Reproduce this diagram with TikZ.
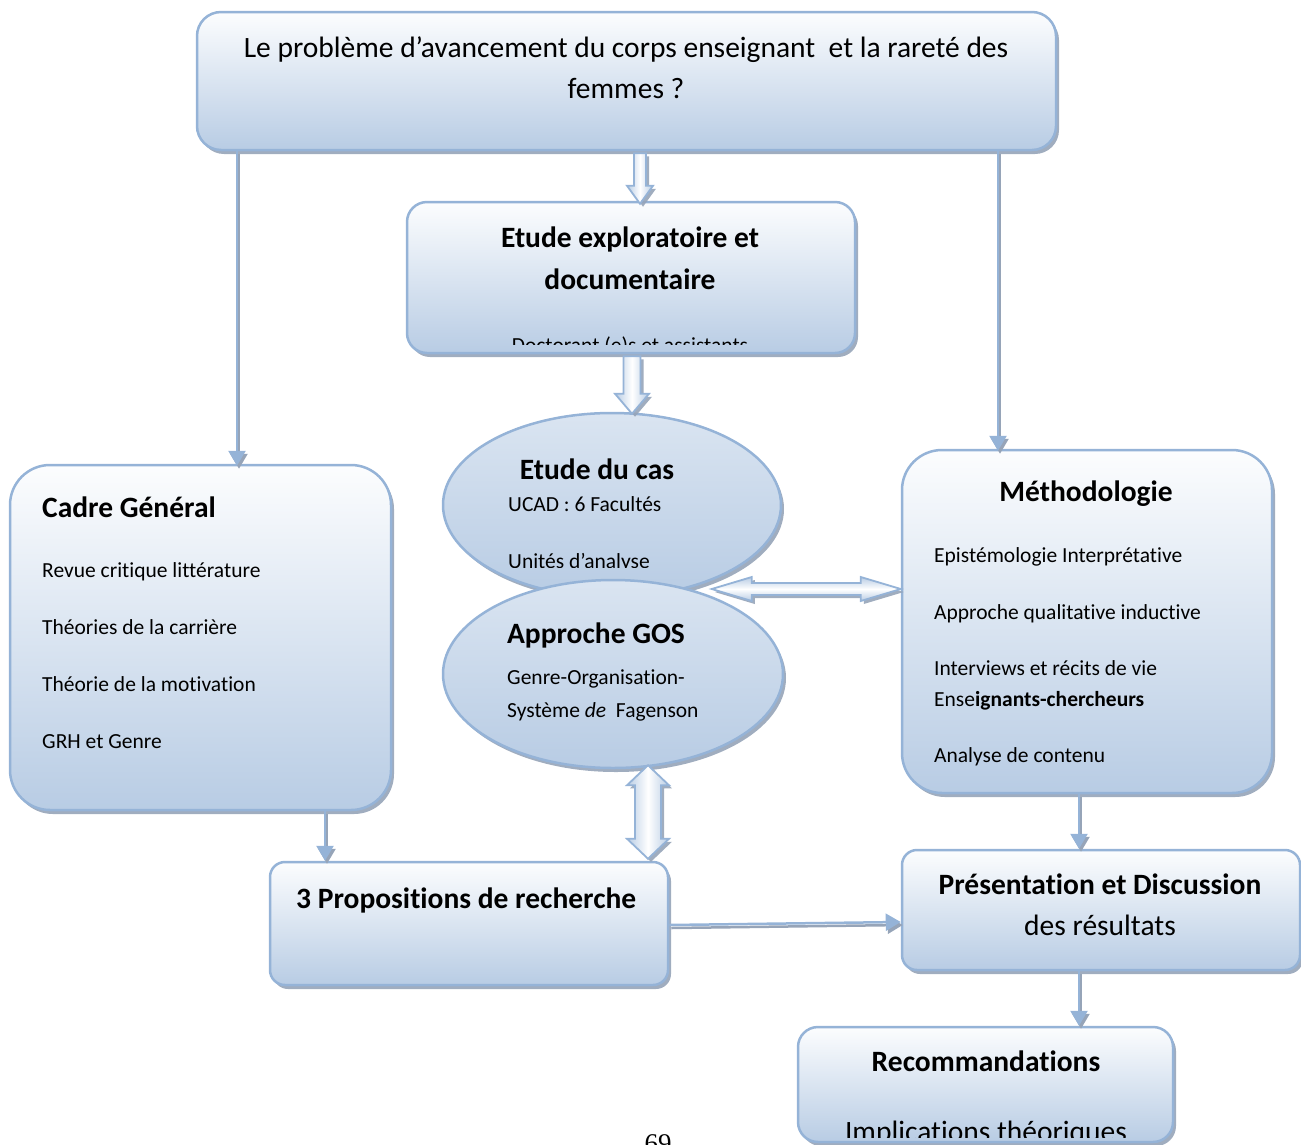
\documentclass[tikz,border=0pt]{standalone}
\usepackage{fontspec}
\setmainfont{Carlito}[Ligatures=NoCommon]
\newfontfamily\pagefont{Liberation Serif}
\usetikzlibrary{arrows.meta,calc,shapes.geometric,shadows}

\definecolor{bord}{RGB}{149,179,215}
\definecolor{topc}{RGB}{252,253,254}
\definecolor{botc}{RGB}{184,204,228}
\definecolor{shad}{RGB}{150,164,184}

\tikzset{
  box/.style={draw=bord, line width=2.5pt, top color=topc, bottom color=botc,
    inner sep=0pt, drop shadow={shadow xshift=3pt, shadow yshift=-4pt, fill=shad, opacity=0.9}},
  ell/.style={ellipse, draw=bord, line width=2.5pt, top color=topc!50!botc, bottom color=botc,
    inner sep=0pt, drop shadow={shadow xshift=3pt, shadow yshift=-4pt, fill=shad, opacity=0.9}},
  thinarr/.style={draw=bord, line width=2.5pt, -{Triangle[length=15pt,width=17pt]},
    preaction={draw=shad, line width=2.5pt, -{Triangle[length=15pt,width=17pt]},
      transform canvas={shift={(2pt,-3pt)}}}},
  blk/.style={draw=bord, line width=1.8pt, line join=miter,
    drop shadow={shadow xshift=3pt, shadow yshift=-3pt, fill=shad, opacity=0.9}},
  vshade/.style={left color=botc, right color=botc, middle color=white},
  hshade/.style={top color=botc, bottom color=botc, middle color=white},
  txt/.style={font=\fontsize{21.5}{25}\selectfont, anchor=base west, inner sep=0pt},
  txtc/.style={font=\fontsize{21.5}{25}\selectfont, anchor=base, inner sep=0pt},
  big/.style={font=\fontsize{29.5}{34}\selectfont, anchor=base, inner sep=0pt},
  hdr/.style={font=\bfseries\fontsize{29.5}{34}\selectfont, anchor=base, inner sep=0pt},
  hdrw/.style={font=\bfseries\fontsize{29.5}{34}\selectfont, anchor=base west, inner sep=0pt},
}

\begin{document}
\begin{tikzpicture}[x=1pt,y=-1pt]
\useasboundingbox (0,0) rectangle (1301,1144);

% ---------- boxes ----------
\node[box, rounded corners=24, minimum width=859, minimum height=138] (top) at (626.5,81) {};
\node[box, rounded corners=20, minimum width=448, minimum height=151] (expl) at (631,277.5) {};
\node[box, rounded corners=40, minimum width=381, minimum height=345] (cadre) at (200.5,637.5) {};
\node[box, rounded corners=40, minimum width=370, minimum height=343] (meth) at (1087,621.5) {};
\node[box, rounded corners=15, minimum width=398, minimum height=123] (prop) at (469,923.5) {};
\node[box, rounded corners=15, minimum width=398, minimum height=120] (pres) at (1101,910) {};
\node[box, rounded corners=20, minimum width=375, minimum height=115] (rec) at (985.5,1084.5) {};

% ---------- ellipses ----------
\node[ell, minimum width=338, minimum height=184] (e1) at (612,505) {};
\begin{scope}
  \clip (0,400) rectangle (1301,567);
  \node[hdr] (e1h) at (597,479) {Etude du cas};
  \node[txt] (e1a) at (508,511) {UCAD : 6 Facultés};
  \node[txt] (e1b) at (508,568) {Unités d’analyse};
\end{scope}
\node[ell, minimum width=340, minimum height=188] (e2) at (613,674) {};

% ---------- texts ----------
\node[big] (t1) at (626,57) {Le problème d’avancement du corps enseignant \ et la rareté des};
\node[big] (t2) at (626,98) {femmes ?};

\node[hdr] (x1) at (630,247) {Etude exploratoire et};
\node[hdr] (x2) at (630,289) {documentaire};
\begin{scope}
  \clip (400,200) rectangle (860,344);
  \node[txtc] (x3) at (630,352) {Doctorant (e)s et assistants};
\end{scope}

\node[hdr] (e2h) at (596,643) {Approche GOS};
\node[txt] (e2a) at (507,684) {Genre-Organisation-};
\node[txt] (e2b) at (507,717) {Système \textit{de} \ Fagenson};

\node[hdrw] (c0) at (42,517) {Cadre Général};
\node[txt] (c1) at (42,577) {Revue critique littérature};
\node[txt] (c2) at (42,634) {Théories de la carrière};
\node[txt] (c3) at (42,691) {Théorie de la motivation};
\node[txt] (c4) at (42,748) {GRH et Genre};

\node[hdr] (m0) at (1086,501) {Méthodologie};
\node[txt] (m1) at (934,562) {Epistémologie Interprétative};
\node[txt] (m2) at (934,619) {Approche qualitative inductive};
\node[txt] (m3) at (934,675) {Interviews et récits de vie};
\node[txt] (m4) at (934,706) {Ense\textbf{ignants-chercheurs}};
\node[txt] (m5) at (934,762) {Analyse de contenu};

\node[hdrw] (p0) at (296,908) {3 Propositions de recherche};

\node[hdr] (r0) at (1100,894) {Présentation et Discussion};
\node[big] (r1) at (1100,935) {des résultats};

\node[hdr] (k0) at (986,1071) {Recommandations};
\begin{scope}
  \clip (790,1020) rectangle (1180,1137);
  \node[big] (k1) at (986,1141) {Implications théoriques};
\end{scope}

\node[font=\pagefont\fontsize{27}{30}\selectfont, anchor=base, inner sep=0pt] (pg) at (658,1152) {69};

% ---------- helper coordinates ----------
\coordinate (x237) at (237,0);
\coordinate (x998) at (998,0);
\coordinate (x325) at (325,0);
\coordinate (x1079) at (1079,0);
\coordinate (x640) at (640,0);
\coordinate (x632) at (632,0);
\coordinate (x648) at (648,0);
\coordinate (y589) at (0,589);

% ---------- thin arrows ----------
\draw[thinarr] (top.south -| x237) -- ($(cadre.north -| x237)+(0,2)$);
\draw[thinarr] (top.south -| x998) -- ($(meth.north -| x998)+(0,2)$);
\draw[thinarr] (cadre.south -| x325) -- (prop.north -| x325);
\draw[thinarr] ($(prop.east)+(0,1.5)$) -- ($(pres.west)+(0,12)$);
\draw[thinarr] (meth.south -| x1079) -- (pres.north -| x1079);
\draw[thinarr] (pres.south -| x1079) -- (rec.north -| x1079);

% ---------- block arrows ----------
% top -> exploratoire
\coordinate (b1t) at (top.south -| x640);
\coordinate (b1h) at ($(expl.north -| x640)+(0,3)$);
\path[blk, vshade] ($(b1t)+(-6,2)$) -- ($(b1h)+(-6,-18)$) -- ($(b1h)+(-13,-18)$) -- (b1h)
  -- ($(b1h)+(13,-18)$) -- ($(b1h)+(6,-18)$) -- ($(b1t)+(6,2)$) -- cycle;

% exploratoire -> etude du cas
\coordinate (b2t) at (expl.south -| x632);
\coordinate (b2h) at ($(e1.north -| x632)+(0,2)$);
\path[blk, vshade] ($(b2t)+(-8.5,2)$) -- ($(b2h)+(-8.5,-20)$) -- ($(b2h)+(-17,-20)$) -- (b2h)
  -- ($(b2h)+(17,-20)$) -- ($(b2h)+(8.5,-20)$) -- ($(b2t)+(8.5,2)$) -- cycle;

% double horizontal
\coordinate (b3r) at (meth.west |- y589);
\coordinate (b3l) at ($(b3r)+(-189,0)$);
\path[blk, hshade] (b3l) -- ($(b3l)+(40,-12)$) -- ($(b3l)+(40,-6)$) -- ($(b3r)+(-40,-6)$)
  -- ($(b3r)+(-40,-12)$) -- (b3r) -- ($(b3r)+(-40,12)$) -- ($(b3r)+(-40,6)$)
  -- ($(b3l)+(40,6)$) -- ($(b3l)+(40,12)$) -- cycle;

% double vertical
\coordinate (b4t) at ($(e2.south -| x648)+(0,-4)$);
\coordinate (b4b) at ($(prop.north -| x648)+(0,-2)$);
\path[blk, vshade] (b4t) -- ($(b4t)+(21,20)$) -- ($(b4t)+(13,20)$) -- ($(b4b)+(13,-20)$)
  -- ($(b4b)+(21,-20)$) -- (b4b) -- ($(b4b)+(-21,-20)$) -- ($(b4b)+(-13,-20)$)
  -- ($(b4t)+(-13,20)$) -- ($(b4t)+(-21,20)$) -- cycle;

\end{tikzpicture}
\end{document}
